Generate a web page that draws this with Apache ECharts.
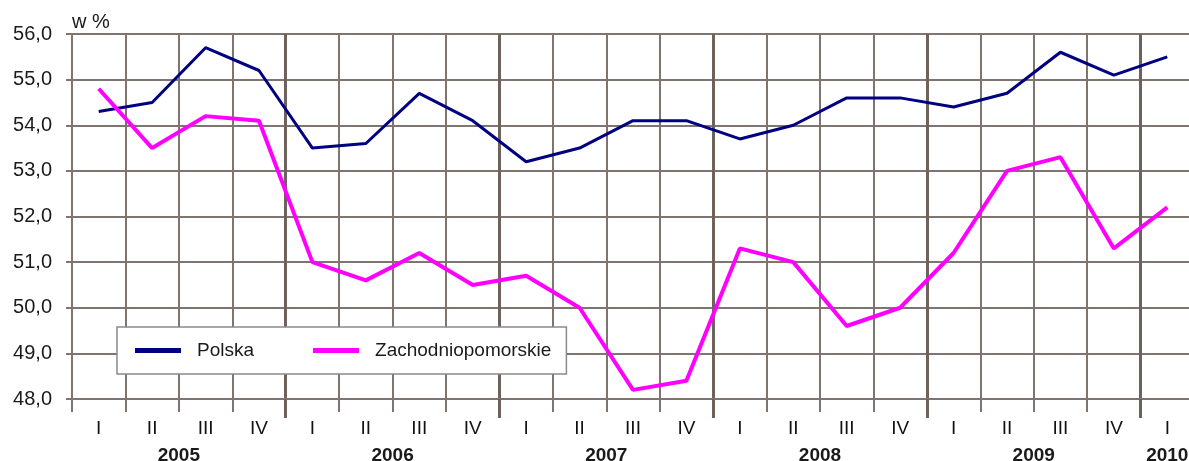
<!DOCTYPE html>
<html>
<head>
<meta charset="utf-8">
<script src="https://cdn.jsdelivr.net/npm/echarts@6/dist/echarts.min.js"></script>
<style>
	html, body { margin: 0; padding: 0; background: #fff; }
	#chart { width: 1189px; height: 461px; }
</style>
</head>
<body>
<div id="chart"></div>
<script>
var quarters = ['I','II','III','IV','I','II','III','IV','I','II','III','IV',
                'I','II','III','IV','I','II','III','IV','I'];
var years = ['2005','2006','2007','2008','2009','2010'];
// middle of each year group, counted in categories from the left edge
var yearPos = [2, 6, 10, 14, 18, 20.5];
var polska = [54.3, 54.5, 55.7, 55.2, 53.5, 53.6, 54.7, 54.1, 53.2, 53.5, 54.1,
              54.1, 53.7, 54.0, 54.6, 54.6, 54.4, 54.7, 55.6, 55.1, 55.5];
var zachodniopomorskie = [54.8, 53.5, 54.2, 54.1, 51.0, 50.6, 51.2, 50.5, 50.7, 50.0, 48.2,
                          48.4, 51.3, 51.0, 49.6, 50.0, 51.2, 53.0, 53.3, 51.3, 52.2];
var yTicks = [48, 49, 50, 51, 52, 53, 54, 55, 56];

var gridColor = '#7f746e';
var font = 'Liberation Sans, Arial, sans-serif';

function initChart() {
	var option = {
		backgroundColor : '#fff',
		animation : false,
		grid : { left : 72, right : -5, top : 34, bottom : 62, outerBoundsMode : 'none', containLabel : false },
		legend : {
			left : 117,
			top : 327,
			padding : [14, 15, 14, 18],
			backgroundColor : '#fff',
			borderColor : '#8a8a8a',
			borderWidth : 1.5,
			itemWidth : 46,
			itemHeight : 5,
			itemGap : 59,
			icon : 'rect',
			textStyle : { fontFamily : font, fontSize : 19, color : '#1a1a1a', padding : [0, 0, 0, 11] },
			data : ['Polska', 'Zachodniopomorskie']
		},
		xAxis : [ {
			type : 'category',
			data : quarters,
			boundaryGap : true,
			axisLine : { show : true, lineStyle : { color : gridColor, width : 2 } },
			axisTick : { show : true, interval : 0, length : 13, lineStyle : { color : gridColor, width : 2 } },
			splitLine : { show : true, interval : 0, lineStyle : { color : gridColor, width : 2 } },
			axisLabel : { interval : 0, margin : 20, fontFamily : font, fontSize : 19, color : '#111' }
		}, {
			type : 'value',
			min : 0,
			max : 21,
			interval : 0.5,
			position : 'bottom',
			axisLine : { show : false },
			axisTick : { show : false },
			splitLine : { show : false },
			axisLabel : {
				margin : 47,
				fontFamily : font,
				fontSize : 19,
				fontWeight : 'bold',
				color : '#1a1a1a',
				showMinLabel : true,
				showMaxLabel : true,
				formatter : function(v) {
					var k = yearPos.indexOf(v);
					return k >= 0 ? years[k] : '';
				}
			}
		}, {
			type : 'category',
			data : quarters,
			boundaryGap : true,
			position : 'bottom',
			axisLine : { show : false },
			axisLabel : { show : false },
			axisTick : {
				show : true,
				length : 19,
				interval : function(i) { return i > 0 && i % 4 === 0; },
				lineStyle : { color : '#6e625c', width : 3 }
			},
			splitLine : {
				show : true,
				interval : function(i) { return i > 0 && i % 4 === 0; },
				lineStyle : { color : '#6e625c', width : 3 }
			}
		} ],
		yAxis : {
			type : 'value',
			min : yTicks[0],
			max : yTicks[yTicks.length - 1],
			interval : 1,
			name : 'w %',
			nameLocation : 'end',
			nameGap : 12,
			nameTextStyle : { fontFamily : font, fontSize : 20, color : '#1a1a1a', align : 'left', verticalAlign : 'middle' },
			axisLine : { show : true, lineStyle : { color : gridColor, width : 2 } },
			axisTick : { show : true, length : 6, lineStyle : { color : gridColor, width : 2 } },
			splitLine : { show : true, lineStyle : { color : gridColor, width : 2 } },
			axisLabel : {
				margin : 20,
				fontFamily : font,
				fontSize : 20,
				color : '#1a1a1a',
				formatter : function(v) { return v.toFixed(1).replace('.', ','); }
			}
		},
		series : [ {
			name : 'Polska',
			type : 'line',
			data : polska,
			symbol : 'none',
			color : '#000080',
			lineStyle : { color : '#000080', width : 3 },
			z : 3
		}, {
			name : 'Zachodniopomorskie',
			type : 'line',
			data : zachodniopomorskie,
			symbol : 'none',
			color : '#ff00ff',
			lineStyle : { color : '#ff00ff', width : 4 },
			z : 3
		} ]
	};
	var chart = echarts.init(document.getElementById('chart'));
	chart.setOption(option);
}
initChart();
</script>
</body>
</html>
